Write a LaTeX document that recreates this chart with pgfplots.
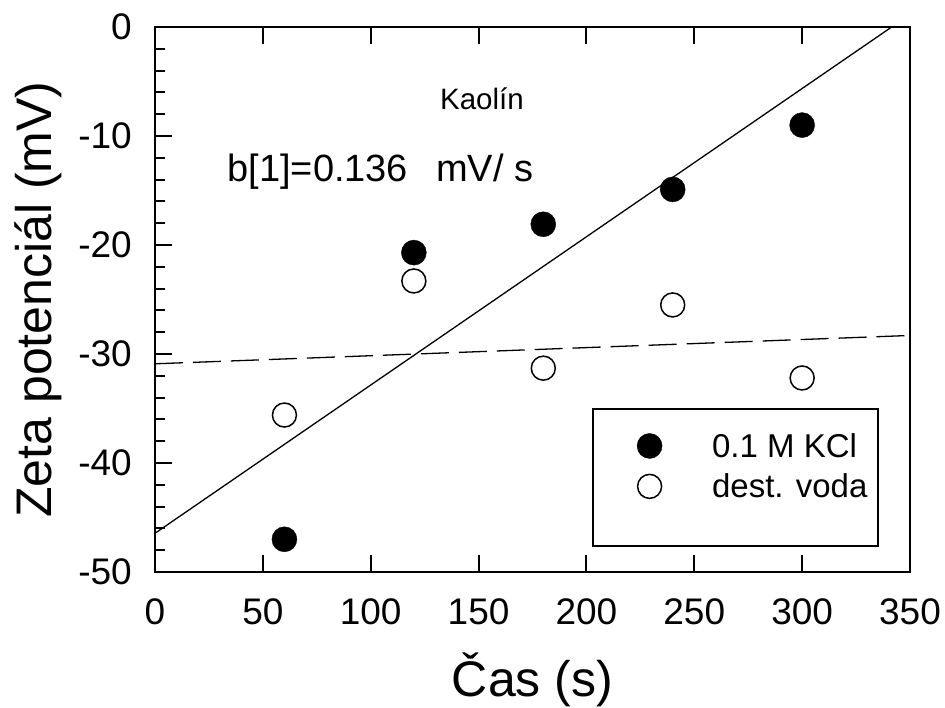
\documentclass[border=0pt]{standalone}
\usepackage{pgfplots}
\pgfplotsset{compat=1.18}
\usepackage{fontspec}
\setmainfont{Liberation Sans}
\newcommand{\fs}[1]{\fontsize{#1}{#1}\selectfont}
\begin{document}
\begin{tikzpicture}[x=1pt,y=1pt]
\path[use as bounding box] (-155,-136) rectangle (790,572);
\pgfplotsset{
  common/.style={
    width=755pt, height=545pt, scale only axis,
    at={(0,0)}, anchor=south west,
    xmin=0, xmax=350, ymin=-50, ymax=0,
    xtick={0,50,...,350}, ytick={-50,-40,...,0},
    tick align=inside,
    major tick length=17pt, minor tick length=10pt,
    every tick/.style={line width=2pt, black},
    axis line style={line width=2pt},
    /pgf/number format/assume math mode=true,
  }
}
\begin{axis}[common,
    minor y tick num=4,
    ytick pos=left, xtick pos=both,
    tick label style={font=\fs{37}},
    xticklabel style={anchor=base, inner sep=0pt, yshift=-53pt},
    yticklabel style={anchor=east, inner sep=0pt, xshift=-23pt},
    xlabel={Čas (s)},
    ylabel={Zeta potenciál (mV)},
    xlabel style={font=\fs{50}, at={(axis description cs:0.5,0)}, anchor=base, yshift=-125pt, inner sep=0pt},
    ylabel style={font=\fs{50}, at={(axis description cs:0,0.5)}, anchor=base, yshift=103pt, inner sep=0pt},
    legend style={draw=none, fill=none, at={(rel axis cs:0.58,0.299)}, anchor=north west,
      font=\fs{33}, row sep=11pt, inner xsep=0pt, inner ysep=0pt, xshift=44pt, yshift=-22pt},
    legend cell align=left,
    legend image code/.code={\draw plot coordinates {(12pt,0pt)};},
  ]
  \addplot[only marks, mark=*, mark size=12.5pt, mark options={fill=black, draw=black}]
    coordinates {(60,-47.0) (120,-20.7) (180,-18.1) (240,-14.9) (300,-9.0)};
  \addlegendentry{\hspace{48pt}0.1 M KCl}
  \addplot[only marks, mark=o, mark size=12pt, mark options={draw=black, fill=white, line width=1.5pt}]
    coordinates {(60,-35.6) (120,-23.3) (180,-31.3) (240,-25.5) (300,-32.2)};
  \addlegendentry{\hspace{48pt}dest. voda}
  \addplot[black, line width=1.3pt, forget plot] coordinates {(0,-46.45) (341.5,0)};
  \addplot[black, line width=1.3pt, dash pattern=on 28pt off 10pt, forget plot] coordinates {(0,-30.9) (350,-28.3)};
  \draw[line width=1.3pt] (rel axis cs:0.580,0.299) rectangle (rel axis cs:0.9576,0.0477);
  \node[anchor=base west, inner sep=0pt, font=\fs{29.5}] at (axis cs:132.1,-7.61) {Kaolín};
  \node[anchor=base west, inner sep=0pt, font=\fs{38}] at (axis cs:33.5,-14.13) {b[1]=0.136\hspace{28pt}mV/ s};
\end{axis}
\begin{axis}[common,
    ytick pos=right, xtick pos=left,
    xticklabels={}, yticklabels={},
    axis lines=none,
  ]
  \addplot[draw=none] coordinates {(0,0)};
\end{axis}
\end{tikzpicture}
\end{document}
